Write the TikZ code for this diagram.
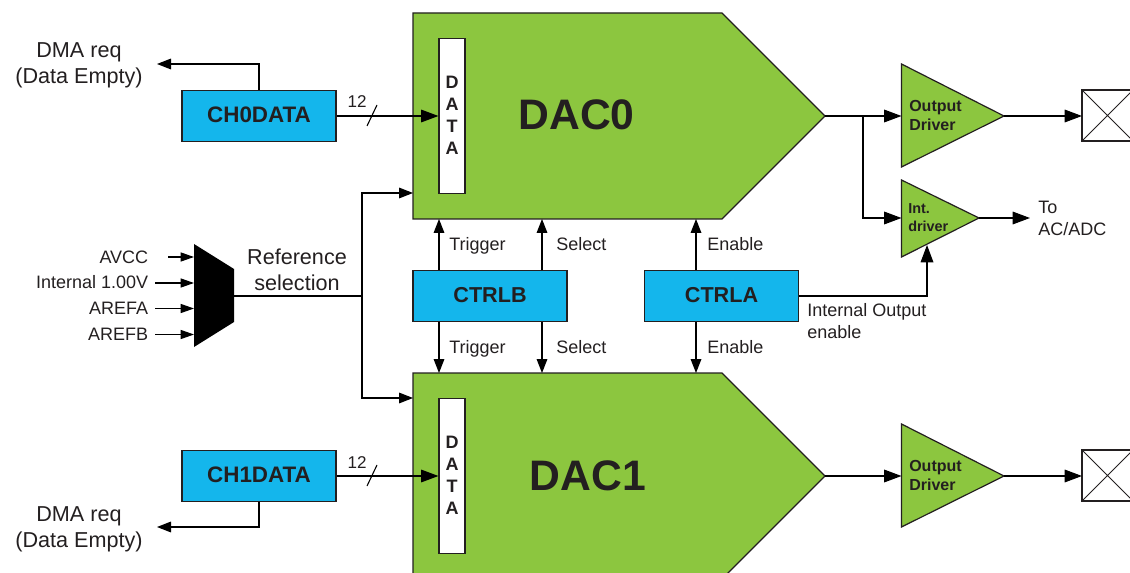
\documentclass[tikz,border=0pt]{standalone}
\usepackage{fontspec}
\setmainfont{Liberation Sans}
\usetikzlibrary{arrows.meta}
\definecolor{dacgreen}{RGB}{140,198,63}
\definecolor{regblue}{RGB}{20,182,236}
\definecolor{ink}{RGB}{35,31,32}
\tikzset{
  x=0.75pt,y=-0.75pt,
  wire/.style={draw=black,line width=0.85pt},
  bigtip/.style={-{Triangle[length=13pt,width=9.5pt]}},
  midtip/.style={-{Triangle[length=10.5pt,width=8pt]}},
  smalltip/.style={-{Triangle[length=10pt,width=6.8pt]}},
  dacshape/.style={fill=dacgreen,draw=ink,line width=0.9pt,line join=miter},
  ampshape/.style={fill=dacgreen,draw=ink,line width=0.9pt,line join=miter},
  regbox/.style={fill=regblue,draw=ink,line width=0.9pt,minimum width=115.5pt,minimum height=38pt,inner sep=0pt},
  regtext/.style={inner sep=0pt,text=ink,font=\bfseries\fontsize{16.2}{19}\selectfont},
  chtext/.style={inner sep=0pt,text=ink,font=\bfseries\fontsize{16.8}{19}\selectfont},
  databox/.style={fill=white,draw=ink,line width=0.9pt,minimum width=19.5pt,minimum height=116.25pt,inner sep=0pt},
  datatext/.style={inner sep=0pt,align=center,text=ink,font=\bfseries\fontsize{13.5}{16.5}\selectfont},
  padbox/.style={fill=white,draw=ink,line width=0.8pt},
  lbl/.style={text=ink,inner sep=0pt,font=\fontsize{13.5}{16}\selectfont,anchor=base west},
  inlbl/.style={text=ink,inner sep=0pt,font=\fontsize{13.5}{16}\selectfont,anchor=base east},
  biglbl/.style={text=ink,inner sep=0pt,align=center,anchor=base,font=\fontsize{16.2}{19.5}\selectfont},
  daclbl/.style={text=ink,inner sep=0pt,anchor=base,font=\bfseries\fontsize{32}{36}\selectfont},
  amplbl/.style={text=ink,inner sep=0pt,align=left,anchor=base west,font=\bfseries\fontsize{12}{14.25}\selectfont},
  intlbl/.style={text=ink,inner sep=0pt,align=left,anchor=base west,font=\bfseries\fontsize{10.8}{13.5}\selectfont},
  txtlbl/.style={text=ink,inner sep=0pt,align=left,anchor=base west,font=\fontsize{13.5}{16.5}\selectfont},
}
\begin{document}
\begin{tikzpicture}
\useasboundingbox (0,0) rectangle (1130,573);
\clip (0,0) rectangle (1130,573);
% main shapes
\path[dacshape] (413,13) -- (722,13) -- (825,116) -- (722,219) -- (413,219) -- cycle;
\path[dacshape] (413,373) -- (722,373) -- (825,476) -- (722,579) -- (413,579) -- cycle;
\node[daclbl] (dac0) at (576.5,130) {DAC0};
\node[daclbl] (dac1) at (588,490) {DAC1};
\coordinate (dac0tip) at (825,116);
\coordinate (dac1tip) at (825,476);
\node[databox] (data0) at (452,116) {};
\node[databox] (data1) at (452,476) {};
\node[datatext] (data0t) at (452,115) {D\\A\\T\\A};
\node[datatext] (data1t) at (452,475) {D\\A\\T\\A};
\node[regbox] (ch0) at (259,116) {};
\node[regbox] (ch1) at (259,476) {};
\node[chtext] (ch0t) at (259,115) {CH0DATA};
\node[chtext] (ch1t) at (259,475) {CH1DATA};
\node[regbox] (ctrlb) at (490,296) {};
\node[regbox] (ctrla) at (721.5,296) {};
\node[regtext] (ctrlbt) at (490,295) {CTRLB};
\node[regtext] (ctrlat) at (721.5,295) {CTRLA};
% amplifiers
\path[ampshape] (901.5,64) -- (1004,116) -- (901.5,167) -- cycle;
\path[ampshape] (901.5,424) -- (1004,476) -- (901.5,527) -- cycle;
\path[ampshape] (901.5,180) -- (979,218) -- (901.5,257) -- cycle;
\coordinate (drv0in) at (901.5,116);
\coordinate (drv0out) at (1004,116);
\coordinate (drv1in) at (901.5,476);
\coordinate (drv1out) at (1004,476);
\coordinate (intin) at (901.5,218);
\coordinate (intout) at (979,218);
\coordinate (inten) at (927,245);
\node[amplbl] (drv0t) at (909,130.7) {Output\\Driver};
\node[amplbl] (drv1t) at (909,490) {Output\\Driver};
\node[intlbl] (intt) at (908,232) {Int.\\driver};
% pads
\foreach \pname/\py in {pad0/90,pad1/450}{
  \draw[padbox] (1082,\py) rectangle (1133,\py+51);
  \draw[line width=0.6pt,draw=ink] (1082,\py) -- (1133,\py+51) (1082,\py+51) -- (1133,\py);
  \coordinate (\pname) at (1082,\py+26);
}
% mux
\fill[black] (194,244) -- (234,269) -- (234,322) -- (194,347) -- cycle;
\coordinate (muxout) at (234,296);
\coordinate (refbus) at (362,296);
\coordinate (in1) at (194,257);
\coordinate (in2) at (194,283);
\coordinate (in3) at (194,308.5);
\coordinate (in4) at (194,334.5);
\node[inlbl] (avcc) at (148.5,263.7) {AVCC};
\node[inlbl] (int1v) at (148.5,289) {Internal 1.00V};
\node[inlbl] (arefa) at (148.5,314.7) {AREFA};
\node[inlbl] (arefb) at (148.5,340.7) {AREFB};
\draw[wire,smalltip] (168,257) -- (in1);
\draw[wire,smalltip] (155,283) -- (in2);
\draw[wire,smalltip] (155,308.5) -- (in3);
\draw[wire,smalltip] (155,334.5) -- (in4);
\node[biglbl] (reft) at (297,290.5) {Reference\\selection};
\draw[wire] (muxout) -- (refbus);
\coordinate (refa) at (413,193);
\coordinate (refb) at (413,398);
\draw[wire,midtip] (refbus) |- (refa);
\draw[wire,midtip] (refbus) |- (refb);
% DMA
\coordinate (dma0) at (157,64);
\coordinate (dma1) at (157,527);
\draw[wire,midtip] (ch0.north) |- (dma0);
\draw[wire,midtip] (ch1.south) |- (dma1);
\node[biglbl] (dma0t) at (79,84) {DMA req\\(Data Empty)};
\node[biglbl] (dma1t) at (79,547) {DMA req\\(Data Empty)};
% data lines
\draw[wire,bigtip] (ch0.east) -- (data0.west);
\draw[wire,bigtip] (ch1.east) -- (data1.west);
\draw[line width=0.8pt,draw=black] (367,126) -- (377,105);
\draw[line width=0.8pt,draw=black] (367,486) -- (377,465);
\node[text=ink,inner sep=0pt,anchor=base,font=\fontsize{12.8}{15}\selectfont] (n12a) at (357,108) {12};
\node[text=ink,inner sep=0pt,anchor=base,font=\fontsize{12.8}{15}\selectfont] (n12b) at (357,468) {12};
% control arrows
\coordinate (t0) at (439,219);
\coordinate (s0) at (542,219);
\coordinate (e0) at (696,219);
\coordinate (t1) at (439,373);
\coordinate (s1) at (542,373);
\coordinate (e1) at (696,373);
\draw[wire,midtip] (ctrlb.north -| t0) -- (t0);
\draw[wire,midtip] (ctrlb.north -| s0) -- (s0);
\draw[wire,midtip] (ctrla.north -| e0) -- (e0);
\draw[wire,midtip] (ctrlb.south -| t1) -- (t1);
\draw[wire,midtip] (ctrlb.south -| s1) -- (s1);
\draw[wire,midtip] (ctrla.south -| e1) -- (e1);
\node[lbl] (l1) at (449,250.7) {Trigger};
\node[lbl] (l2) at (556,250.7) {Select};
\node[lbl] (l3) at (707,250.7) {Enable};
\node[lbl] (l4) at (449,353.5) {Trigger};
\node[lbl] (l5) at (556,353.5) {Select};
\node[lbl] (l6) at (707,353.5) {Enable};
% output connections
\coordinate (branch) at (863,116);
\draw[wire,bigtip] (dac0tip) -- (drv0in);
\draw[wire,bigtip] (branch) |- (intin);
\draw[wire,bigtip] (dac1tip) -- (drv1in);
\draw[wire,bigtip] (drv0out) -- (pad0);
\draw[wire,bigtip] (drv1out) -- (pad1);
\coordinate (toadc) at (1030,218);
\draw[wire,bigtip] (intout) -- (toadc);
\draw[wire,bigtip] (ctrla.east) -| (inten);
\node[txtlbl] (tot) at (1038,235.5) {To\\AC/ADC};
\node[txtlbl] (iot) at (807,338) {Internal Output\\enable};
\end{tikzpicture}
\end{document}
